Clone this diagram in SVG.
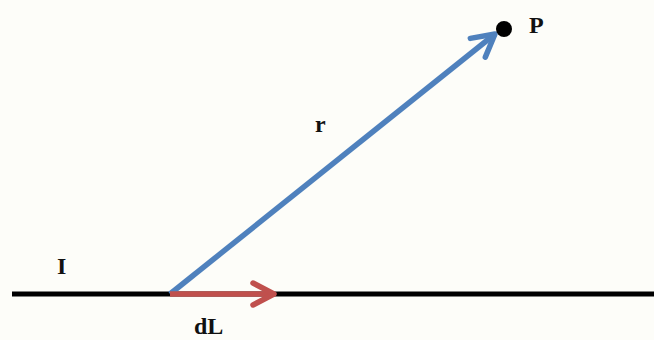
<svg xmlns="http://www.w3.org/2000/svg" width="654" height="340" viewBox="0 0 654 340">
<style>
.lbl{font-family:"Liberation Serif","DejaVu Serif",serif;font-size:24px;font-weight:bold;fill:#111}
</style>
<defs>
<marker id="hb" markerUnits="userSpaceOnUse" markerWidth="40" markerHeight="40" refX="0" refY="0" viewBox="-30 -20 40 40" orient="auto" overflow="visible">
<path d="M-22,-12 L0,0 L-22,12" fill="none" stroke="#4f81bd" stroke-width="5.5" stroke-linecap="round" stroke-linejoin="round"/>
</marker>
<marker id="hr" markerUnits="userSpaceOnUse" markerWidth="40" markerHeight="40" refX="0" refY="0" viewBox="-30 -20 40 40" orient="auto" overflow="visible">
<path d="M-21,-11 L0,0 L-21,11" fill="none" stroke="#c0504d" stroke-width="5.5" stroke-linecap="round" stroke-linejoin="round"/>
</marker>
</defs>
<rect width="654" height="340" fill="#fdfdf9"/>
<g id="connectors">
<line id="wire" x1="12" y1="294" x2="654" y2="294" stroke="#000" stroke-width="5"/>
<line id="r-vector" x1="170" y1="294" x2="495" y2="34" stroke="#4f81bd" stroke-width="5.5" marker-end="url(#hb)"/>
<line id="dL-vector" x1="170" y1="294" x2="274" y2="294" stroke="#c0504d" stroke-width="5.5" marker-end="url(#hr)"/>
</g>
<g id="point-P">
<circle cx="504" cy="29" r="8" fill="#000"/>
<text class="lbl" x="529" y="33">P</text>
</g>
<g id="label-I"><text class="lbl" x="57" y="274">I</text></g>
<g id="label-r"><text class="lbl" x="315" y="132">r</text></g>
<g id="label-dL"><text class="lbl" x="194" y="334">dL</text></g>
</svg>
